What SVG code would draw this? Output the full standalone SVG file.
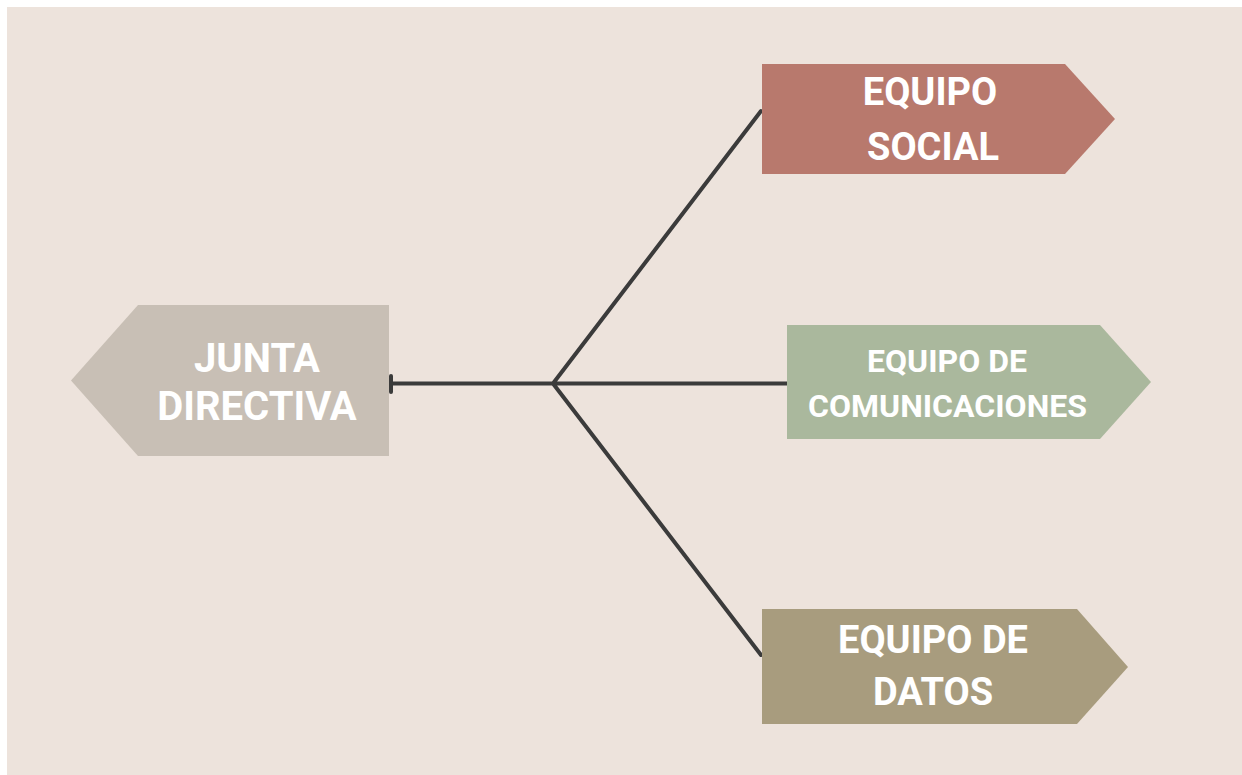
<svg xmlns="http://www.w3.org/2000/svg" width="1242" height="775" viewBox="0 0 1242 775">
<style>
.lbl{font-family:Roboto,"Liberation Sans",sans-serif;font-weight:bold;fill:#ffffff;text-anchor:middle}
.con{stroke:#3b3b3b;stroke-width:4;fill:none;stroke-linecap:round;stroke-linejoin:round}
</style>
<rect x="0" y="0" width="1242" height="775" fill="#ffffff"/>
<rect x="7" y="7" width="1235" height="768" fill="#ede3dc"/>
<g id="connectors">
<path class="con" d="M391,383.5 H553 M553,383.5 L761,111 M553,383.5 H787 M553,383.5 L761,655"/>
<line x1="391" y1="376" x2="391" y2="392" stroke="#3b3b3b" stroke-width="4" stroke-linecap="round"/>
</g>
<g id="junta">
<polygon points="71,380.5 138,305 389,305 389,456 138,456" fill="#c8bfb5"/>
<text class="lbl" font-size="40" x="257" y="372">JUNTA</text>
<text class="lbl" font-size="40" x="257" y="420">DIRECTIVA</text>
</g>
<g id="social">
<polygon points="762,64 1065,64 1115,119 1065,174 762,174" fill="#b8796d"/>
<text class="lbl" font-size="38" x="930" y="105">EQUIPO</text>
<text class="lbl" font-size="38" x="933" y="160">SOCIAL</text>
</g>
<g id="comunicaciones">
<polygon points="787,325 1100,325 1151,382 1100,439 787,439" fill="#aab89d"/>
<text class="lbl" font-size="32" x="947" y="372">EQUIPO DE</text>
<text class="lbl" font-size="32" x="947.5" y="417">COMUNICACIONES</text>
</g>
<g id="datos">
<polygon points="762,609 1077,609 1128,667 1077,724 762,724" fill="#a89c7e"/>
<text class="lbl" font-size="38" x="933" y="653">EQUIPO DE</text>
<text class="lbl" font-size="38" x="933" y="705">DATOS</text>
</g>
</svg>
